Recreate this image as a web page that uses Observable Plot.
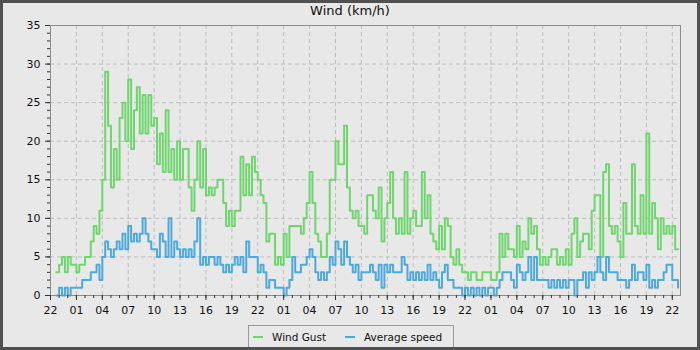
<!DOCTYPE html>
<html>
<head>
<meta charset="utf-8">
<script src="https://cdn.jsdelivr.net/npm/d3@7"></script>
<script src="https://cdn.jsdelivr.net/npm/@observablehq/plot@0.6"></script>
<style>
  html, body { margin: 0; padding: 0; background: #e8e8e8; }
  #wrap { position: relative; width: 700px; height: 350px; background: #e8e8e8; overflow: hidden;
          font-family: "DejaVu Sans", sans-serif; color: #111; }
  #title { position: absolute; left: 0; top: 3px; width: 700px; text-align: center; font-size: 13px; line-height: 16px; }
  #chart { position: absolute; left: 0; top: 0; }
  #legend { position: absolute; left: 248px; top: 325px; width: 206px; height: 26px; box-sizing: border-box;
            border: 1px solid #9a9a9a; background: #e8e8e8; font-size: 10.5px; }
  .item { position: absolute; top: 5px; line-height: 13px; white-space: nowrap; }
  .sw { display: inline-block; width: 10px; height: 2px; vertical-align: middle; margin-right: 9px; position: relative; top: -1px; }
  #border { position: absolute; left: 0; top: 0; width: 700px; height: 350px; box-sizing: border-box;
            border: 3px solid #505050; pointer-events: none; }
</style>
</head>
<body>
<div id="wrap">
  <div id="chart"></div>
  <div id="title">Wind (km/h)</div>
  <div id="legend"></div>
  <div id="border"></div>
</div>
<script>
// Series names and colours
const seriesNames = ["Wind Gust", "Average speed"];
const seriesColors = ["#6fd66d", "#4ea9da"];

// Hour tick labels (every 3 hours, starting 22:00)
const hourLabels = ["22","01","04","07","10","13","16","19",
                    "22","01","04","07","10","13","16","19",
                    "22","01","04","07","10","13","16","19","22"];

// Readings: first at 22:40 (hours after 22:00), then every 20 minutes
const firstReadingHours = 2 / 3;
const readingStepHours = 1 / 3;

// Wind gust (km/h)
const gust = [
  3,4,5,3,5,4,4,3,4,4, 5,5,7,9,8,11,15,29,22,14, 19,15,23,25,20,28,19,24,27,21,
  26,21,26,22,23,17,21,16,24,16, 19,15,
  20,15,19,19,14,11,15,20,14,19, 13,14,13,14,15,15,12,9,11,9, 11,11,18,13,17,13,18,16,15,13,
  12,7,8,8,4,5,4,8,5,9, 9,9,9,8,
  10,12,16,12,8,7,5,5,8,15, 15,20,17,17,22,14,11,10,11,9, 9,8,13,13,11,10,14,7,10,12,
  16,10,8,10,8,16,8,10,11,9, 9,16,10,13,
  8,7,6,9,6,10,9,5,4,6, 4,3,3,2,3,3,2,2,3,3, 3,2,2,3,8,5,8,6,6,5,
  9,5,7,6,10,8,9,6,4,5, 4,5,6,
  6,4,5,4,6,4,8,10,5,7, 8,8,6,11,13,13,5,16,17,9, 8,9,7,5,12,8,8,17,9,8,
  13,8,21,8,12,10,6,10,8,9, 8,9,6,6
];

// Average speed (km/h)
const avg = [
  0,1,0,1,0,1,1,1,1,2, 2,2,3,3,4,2,5,7,6,5, 6,7,6,8,6,9,7,8,7,8,
  10,8,7,6,6,5,8,7,5,10, 5,7,
  6,5,6,5,6,5,7,10,4,5, 4,5,5,4,5,4,3,4,3,4, 5,4,5,3,7,5,5,5,3,4,
  3,1,2,2,1,1,1,0,1,2, 5,3,3,4,
  4,5,6,5,3,2,3,2,3,5, 4,7,6,4,7,5,4,3,4,2, 3,3,3,4,3,2,4,1,4,3,
  4,3,3,3,5,4,2,3,2,3, 2,3,2,4,
  2,3,2,1,3,4,2,2,1,1, 1,0,1,0,1,0,1,0,1,0, 1,1,0,1,2,3,3,3,2,1,
  4,3,2,3,5,2,5,2,2,2, 2,1,2,
  1,2,1,2,1,2,2,0,2,2, 3,1,3,2,3,5,3,2,5,3, 3,3,2,2,2,1,2,4,2,3,
  3,2,4,1,2,1,2,2,3,4, 4,2,2,1
];

const toRows = (arr) => arr.map((v, i) => ({t: firstReadingHours + i * readingStepHours, v}));
const gustRows = toRows(gust);
const avgRows = toRows(avg);

const majorX = hourLabels.map((_, i) => i * 3);
const minorX = d3.range(0, 73, 1);
const majorY = d3.range(0, 36, 5);
const minorY = d3.range(0, 36, 1);

const chart = Plot.plot({
  width: 700,
  height: 320,
  marginLeft: 50,
  marginRight: 20,
  marginTop: 25,
  marginBottom: 25,
  style: {background: "transparent", fontFamily: "DejaVu Sans, sans-serif", fontSize: "11px", color: "#111", overflow: "visible"},
  x: {type: "linear", domain: [0, 72.95]},
  y: {domain: [0, 35]},
  marks: [
    Plot.gridX(majorX.filter(d => d > 0), {stroke: "#bdbdbd", strokeOpacity: 1, strokeDasharray: "4,3"}),
    Plot.gridY(majorY.filter(d => d > 0 && d < 35), {stroke: "#bdbdbd", strokeOpacity: 1, strokeDasharray: "4,3"}),
    Plot.line(gustRows, {x: "t", y: "v", curve: "step-after", stroke: seriesColors[0], strokeWidth: 2}),
    Plot.line(avgRows, {x: "t", y: "v", curve: "step-after", stroke: seriesColors[1], strokeWidth: 2}),
    Plot.frame({stroke: "#8c8c8c"}),
    Plot.axisX({ticks: minorX, tickSize: 3, tickFormat: () => "", label: null, stroke: "#333"}),
    Plot.axisX({ticks: majorX, tickSize: 5, tickPadding: 6, label: null, stroke: "#333",
                tickFormat: (d) => hourLabels[Math.round(d / 3)]}),
    Plot.axisY({ticks: minorY, tickSize: 3, tickFormat: () => "", label: null, stroke: "#333"}),
    Plot.axisY({ticks: majorY, tickSize: 5, tickPadding: 5, label: null, stroke: "#333"})
  ]
});
document.getElementById("chart").appendChild(chart);

// Legend
const legend = document.getElementById("legend");
const itemLeft = [4, 96];
seriesNames.forEach((name, i) => {
  const it = document.createElement("div");
  it.className = "item";
  it.style.left = itemLeft[i] + "px";
  const sw = document.createElement("span");
  sw.className = "sw";
  sw.style.background = seriesColors[i];
  it.appendChild(sw);
  it.appendChild(document.createTextNode(name));
  legend.appendChild(it);
});
</script>
</body>
</html>
